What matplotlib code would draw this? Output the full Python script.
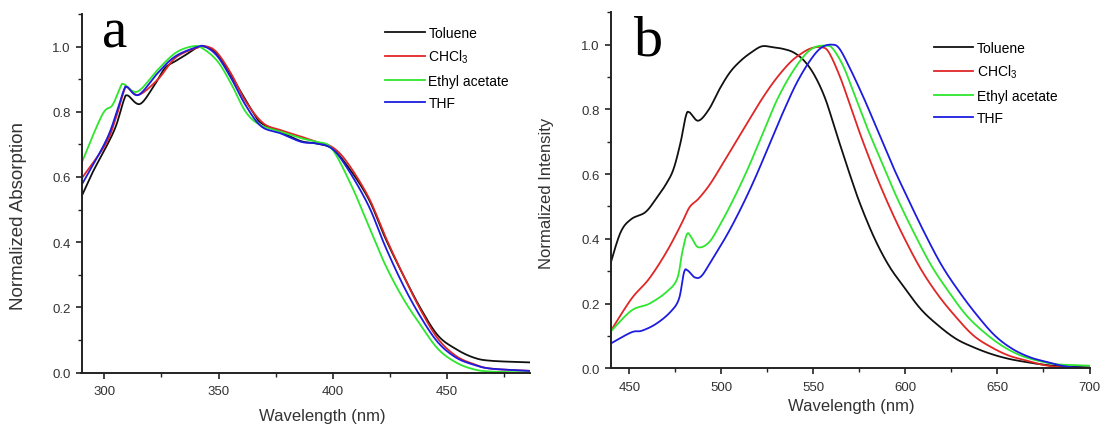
import matplotlib
matplotlib.use("Agg")
import matplotlib.pyplot as plt
from matplotlib.ticker import MultipleLocator
import numpy as np

plt.rcParams['font.family'] = ['Liberation Sans', 'DejaVu Sans']
plt.rcParams['mathtext.fontset'] = 'custom'
plt.rcParams['mathtext.rm'] = 'Liberation Sans'
plt.rcParams['mathtext.it'] = 'Liberation Sans:italic'

labels = ["Toluene", "CHCl$_3$", "Ethyl acetate", "THF"]
colors = ["#111111", "#e02626", "#2ee62e", "#1c1ce0"]

# ---- Panel a: absorption ----
abs_tol_x = [290, 295, 300.5, 305, 308.5, 310.2, 315.6, 322, 326.5, 331, 335.7, 340.3, 344, 348, 352.6, 358.7, 364.9, 368.7, 377, 386, 392.5, 399.4, 406, 415.5, 423, 430.8, 438.5, 446, 453.8, 461.5, 469, 486]
abs_tol_y = [0.54, 0.616, 0.688, 0.755, 0.835, 0.85, 0.824, 0.883, 0.934, 0.955, 0.975, 0.996, 1.0, 0.986, 0.945, 0.873, 0.80, 0.765, 0.739, 0.71, 0.703, 0.688, 0.637, 0.534, 0.411, 0.298, 0.195, 0.113, 0.072, 0.046, 0.036, 0.031]
abs_chl_x = [290, 300.5, 305, 308.5, 310, 315, 323.5, 331, 340.3, 345, 349.5, 355.7, 361.8, 369.5, 377, 386, 392.5, 399.4, 406, 415.5, 423, 430.8, 438.5, 446, 453.8, 461.5, 469, 486]
abs_chl_y = [0.595, 0.70, 0.78, 0.862, 0.875, 0.852, 0.90, 0.965, 0.996, 1.0, 0.98, 0.914, 0.832, 0.765, 0.744, 0.724, 0.708, 0.693, 0.647, 0.539, 0.416, 0.298, 0.19, 0.103, 0.051, 0.026, 0.012, 0.005]
abs_eta_x = [290, 299, 303.5, 307, 308.5, 314.5, 323.5, 331, 338, 342.6, 349.5, 355.7, 361.8, 368, 377, 386, 392.5, 399.4, 408, 415.5, 423, 430.8, 438.5, 446, 453.8, 461.5, 469, 486]
abs_eta_y = [0.642, 0.79, 0.82, 0.875, 0.885, 0.862, 0.93, 0.98, 1.0, 0.996, 0.955, 0.883, 0.80, 0.76, 0.739, 0.719, 0.708, 0.688, 0.575, 0.452, 0.329, 0.226, 0.144, 0.072, 0.031, 0.01, 0.003, 0.0]
abs_thf_x = [290, 300.5, 305, 308.5, 310, 315, 323.5, 331, 340.3, 344, 349.5, 355.7, 361.8, 368.7, 377, 386, 392.5, 399.4, 406, 415.5, 423, 430.8, 438.5, 446, 453.8, 461.5, 469, 486]
abs_thf_y = [0.575, 0.708, 0.79, 0.866, 0.876, 0.852, 0.92, 0.97, 0.998, 1.0, 0.97, 0.90, 0.82, 0.755, 0.734, 0.708, 0.703, 0.688, 0.63, 0.513, 0.385, 0.267, 0.169, 0.092, 0.046, 0.024, 0.012, 0.005]

# ---- Panel b: emission ----
em_tol_x = [439.4, 445.2, 451, 458.6, 464.4, 470, 474, 477.8, 480.7, 482.6, 487.4, 493.2, 499, 504.7, 510.4, 516.2, 522, 527.7, 533.5, 539.2, 545, 550.7, 556.5, 562.3, 570, 575.7, 583.3, 591, 598.7, 608.3, 617.9, 627.5, 637, 646.7, 656.3, 665.9, 675.4, 685, 700]
em_tol_y = [0.317, 0.42, 0.461, 0.482, 0.523, 0.57, 0.616, 0.698, 0.78, 0.791, 0.765, 0.80, 0.863, 0.915, 0.95, 0.976, 0.995, 0.992, 0.987, 0.976, 0.95, 0.904, 0.832, 0.729, 0.595, 0.503, 0.40, 0.317, 0.255, 0.183, 0.132, 0.091, 0.065, 0.044, 0.029, 0.019, 0.011, 0.006, 0.003]
em_chl_x = [439.4, 451, 460.6, 470, 477.8, 482.6, 487.4, 493.2, 499, 506.6, 514.3, 522, 529.6, 537.3, 543, 548.8, 554.6, 558.4, 564.2, 570, 575.7, 583.3, 591, 598.7, 608.3, 617.9, 627.5, 637, 646.7, 656.3, 665.9, 675.4, 685, 700]
em_chl_y = [0.111, 0.214, 0.276, 0.358, 0.441, 0.497, 0.523, 0.564, 0.616, 0.688, 0.76, 0.832, 0.894, 0.945, 0.971, 0.989, 0.992, 0.976, 0.904, 0.812, 0.719, 0.606, 0.503, 0.41, 0.307, 0.225, 0.158, 0.101, 0.065, 0.039, 0.024, 0.01, 0.003, 0.0]
em_eta_x = [439.4, 451, 460.6, 470, 475.9, 478.7, 481.3, 483.6, 487.4, 493.2, 499, 506.6, 514.3, 522, 529.6, 537.3, 545, 550.7, 556.5, 560.3, 566.1, 571.8, 579.5, 587.2, 594.9, 604.5, 614.1, 623.7, 633.2, 642.8, 652.4, 662, 671.6, 681.2, 690.8, 700]
em_eta_y = [0.111, 0.178, 0.199, 0.235, 0.276, 0.358, 0.415, 0.405, 0.374, 0.389, 0.441, 0.523, 0.616, 0.719, 0.822, 0.904, 0.966, 0.992, 0.997, 0.989, 0.935, 0.853, 0.739, 0.636, 0.533, 0.42, 0.317, 0.235, 0.163, 0.111, 0.07, 0.041, 0.024, 0.013, 0.01, 0.008]
em_thf_x = [439.4, 451, 456.7, 464.4, 472.1, 476.9, 479.7, 481.7, 485.5, 489.3, 495.1, 502.8, 510.4, 518.1, 525.8, 533.5, 541.1, 548.8, 554.6, 560.3, 564.2, 570, 577.6, 585.3, 593, 600.6, 610.2, 619.8, 629.4, 639, 648.6, 658.1, 667.7, 677.3, 686.9, 700]
em_thf_y = [0.075, 0.111, 0.116, 0.137, 0.173, 0.214, 0.297, 0.302, 0.281, 0.286, 0.338, 0.41, 0.492, 0.585, 0.688, 0.791, 0.884, 0.956, 0.992, 1.0, 0.987, 0.925, 0.832, 0.729, 0.626, 0.533, 0.42, 0.317, 0.235, 0.163, 0.101, 0.06, 0.034, 0.019, 0.006, 0.0]

W, H = 1105, 427
fig = plt.figure(figsize=(W / 100, H / 100), dpi=100)

def px_axes(l, t, r, b):
    return fig.add_axes([l / W, 1 - b / H, (r - l) / W, (b - t) / H])

def smooth(x, y):
    x = np.asarray(x, float); y = np.asarray(y, float)
    pts_x, pts_y = [], []
    n = len(x)
    for i in range(n - 1):
        p0 = (x[i - 1], y[i - 1]) if i > 0 else (x[i], y[i])
        p1 = (x[i], y[i]); p2 = (x[i + 1], y[i + 1])
        p3 = (x[i + 2], y[i + 2]) if i + 2 < n else (x[i + 1], y[i + 1])
        t = np.linspace(0, 1, 20, endpoint=False)
        for k in range(2):
            a0, a1, a2, a3 = p0[k], p1[k], p2[k], p3[k]
            v = 0.5 * ((2 * a1) + (-a0 + a2) * t + (2 * a0 - 5 * a1 + 4 * a2 - a3) * t ** 2
                       + (-a0 + 3 * a1 - 3 * a2 + a3) * t ** 3)
            (pts_x if k == 0 else pts_y).extend(v)
    pts_x.append(x[-1]); pts_y.append(y[-1])
    return np.array(pts_x), np.array(pts_y)

def style(ax, xlim):
    ax.set_xlim(*xlim)
    ax.set_ylim(0, 1.1)
    ax.xaxis.set_major_locator(MultipleLocator(50))
    ax.xaxis.set_minor_locator(MultipleLocator(25))
    ax.set_yticks([0, 0.2, 0.4, 0.6, 0.8, 1.0])
    ax.yaxis.set_minor_locator(MultipleLocator(0.1))
    ax.yaxis.set_major_formatter(plt.FuncFormatter(lambda v, p: f"{v:.1f}"))
    for s in ['top', 'right']:
        ax.spines[s].set_visible(False)
    for s in ['left', 'bottom']:
        ax.spines[s].set_linewidth(1.4)
        ax.spines[s].set_color('#222222')
    ax.tick_params(which='major', direction='out', length=4.5, width=1.2, labelsize=9.5,
                   colors='#222222', labelcolor='#333333')
    ax.tick_params(axis='x', which='major', pad=4.5)
    ax.tick_params(axis='y', which='major', pad=3.5)
    ax.tick_params(which='minor', direction='out', length=3, width=1.0, colors='#222222')

def draw(ax, xs_list, ys_list):
    for xs, ys, c, lab in zip(xs_list, ys_list, colors, labels):
        sx, sy = smooth(xs, ys)
        ax.plot(sx, sy, color=c, lw=1.3, label=lab)

# Panel a
axa = px_axes(81.5, 15, 529.5, 373.5)
draw(axa, [abs_tol_x, abs_chl_x, abs_eta_x, abs_thf_x], [abs_tol_y, abs_chl_y, abs_eta_y, abs_thf_y])
style(axa, (290, 486))
xl = axa.set_xlabel("Wavelength (nm)", fontsize=12, color='#333333')
xl.set_va('center')
axa.xaxis.set_label_coords((322 - 81.5) / 448, (373.5 - 417) / 358.5)
yl = axa.set_ylabel("Normalized Absorption", fontsize=13.5, color='#333333')
yl.set_va('center')
axa.yaxis.set_label_coords((19 - 81.5) / 448, (373.5 - 216) / 358.5)
axa.legend(loc='upper left', bbox_to_anchor=(385 / W, 1 - 27 / H), bbox_transform=fig.transFigure,
           frameon=False, fontsize=10, handlelength=2.85, handletextpad=0.28, borderpad=0,
           borderaxespad=0, labelspacing=0.58)

# Panel b
axb = px_axes(611, 13.3, 1089.5, 369.3)
draw(axb, [em_tol_x, em_chl_x, em_eta_x, em_thf_x], [em_tol_y, em_chl_y, em_eta_y, em_thf_y])
style(axb, (440, 700))
xl = axb.set_xlabel("Wavelength (nm)", fontsize=12, color='#333333')
xl.set_va('center')
axb.xaxis.set_label_coords((851 - 611) / 478.5, (369.3 - 407) / 356)
yl = axb.set_ylabel("Normalized Intensity", fontsize=12, color='#333333')
yl.set_va('center')
axb.yaxis.set_label_coords((547 - 611) / 478.5, (369.3 - 193.5) / 356)
axb.legend(loc='upper left', bbox_to_anchor=(934 / W, 1 - 42 / H), bbox_transform=fig.transFigure,
           frameon=False, fontsize=10, handlelength=2.8, handletextpad=0.28, borderpad=0,
           borderaxespad=0, labelspacing=0.58)

fig.text(102 / W, 1 - 47 / H, "a", family='Liberation Serif', fontsize=41, ha='left', va='baseline')
fig.text(634 / W, 1 - 55 / H, "b", family='Liberation Serif', fontsize=42, ha='left', va='baseline')

fig.savefig("out.png", dpi=100)
